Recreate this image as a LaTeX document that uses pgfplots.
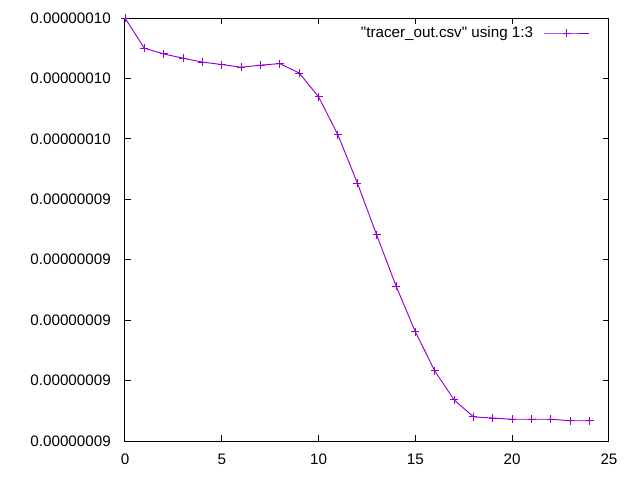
\documentclass[border=0pt]{standalone}
\usepackage{pgfplots}
\pgfplotsset{compat=1.18}
\usepackage{fontspec}
\setmainfont{Liberation Sans}[Ligatures=TeXOff]
\definecolor{gpviolet}{RGB}{148,0,211}
\begin{document}
\fontsize{11.4}{13}\selectfont
\begin{tikzpicture}
\useasboundingbox (-93.75pt,-29.25pt) rectangle (386.25pt,330.75pt);
\begin{axis}[
    at={(0,0)}, anchor=south west,
    scale only axis, width=363pt, height=317.25pt,
    xmin=0, xmax=25, ymin=86, ymax=100,
    xtick={0,5,...,25},
    ytick={86,88,...,100},
    yticklabels={0.00000009,0.00000009,0.00000009,0.00000009,0.00000009,0.00000010,0.00000010,0.00000010},
    tick align=inside, major tick length=4.5pt,
    axis line style={line width=0.75pt},
    tick style={line width=0.75pt, black},
    /pgf/number format/assume math mode=true,
    ticklabel style={font=\fontsize{11.4}{13}\selectfont},
    yticklabel style={xshift=-6.7pt},
    xticklabel style={yshift=-5.6pt},
    legend style={draw=none, fill=none, inner sep=0pt,
        at={([xshift=-14.25pt,yshift=-11.25pt]rel axis cs:1,1)}, anchor=east,
        font=\fontsize{11.4}{13}\selectfont, column sep=6pt},
    legend cell align=right,
    legend plot pos=right,
    legend image code/.code={\draw[#1, mark repeat=2, mark phase=2] plot coordinates {(0pt,0pt) (16.9pt,0pt) (33.75pt,0pt)};},
]
\addplot[color=gpviolet, mark=+, mark size=3pt, line width=0.7pt]
    coordinates {
    (0,100.0)(1,99.0)(2,98.81)(3,98.67)(4,98.54)(5,98.46)(6,98.37)(7,98.44)
    (8,98.49)(9,98.18)(10,97.39)(11,96.13)(12,94.54)(13,92.82)(14,91.13)
    (15,89.61)(16,88.32)(17,87.36)(18,86.80)(19,86.76)(20,86.72)(21,86.72)
    (22,86.72)(23,86.67)(24,86.67)
    };
\addlegendentry{"tracer\_out.csv" using 1:3}
\end{axis}
\end{tikzpicture}
\end{document}
